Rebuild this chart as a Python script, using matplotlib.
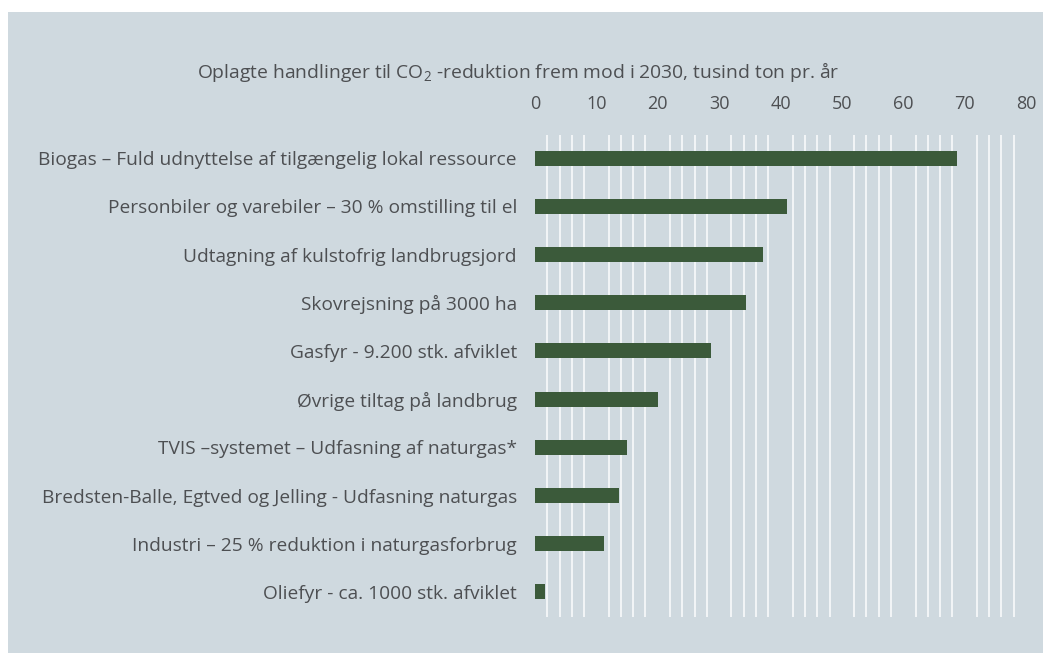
import matplotlib
matplotlib.use("Agg")
import matplotlib.pyplot as plt
import numpy as np

# ── Data ──────────────────────────────────────────────
categories = [
    "Biogas – Fuld udnyttelse af tilgængelig lokal ressource",
    "Personbiler og varebiler – 30 % omstilling til el",
    "Udtagning af kulstofrig landbrugsjord",
    "Skovrejsning på 3000 ha",
    "Gasfyr - 9.200 stk. afviklet",
    "Øvrige tiltag på landbrug",
    "TVIS –systemet – Udfasning af naturgas*",
    "Bredsten-Balle, Egtved og Jelling - Udfasning naturgas",
    "Industri – 25 % reduktion i naturgasforbrug",
    "Oliefyr - ca. 1000 stk. afviklet",
]
values = [68.7, 41.0, 37.1, 34.3, 28.6, 20.0, 15.0, 13.7, 11.2, 1.7]
xticks = [0, 10, 20, 30, 40, 50, 60, 70, 80]
title = "Oplagte handlinger til CO$_2$ -reduktion frem mod i 2030, tusind ton pr. år"

# ── Style ─────────────────────────────────────────────
BG = "#cfd9df"
BAR = "#3b5a3a"
TXT = "#4d4f52"
plt.rcParams['font.family'] = ['Open Sans', 'DejaVu Sans']
plt.rcParams['mathtext.default'] = 'regular'

fig = plt.figure(figsize=(10.43, 6.53), dpi=100)
fig.patch.set_facecolor("white")

# background panel
fig.patches.append(plt.Rectangle((8 / 1043, 0), 1, 1 - 12 / 653,
                                 transform=fig.transFigure, facecolor=BG,
                                 edgecolor="none", zorder=-5))

ax = fig.add_axes([535 / 1043, 1 - 617 / 653, 491 / 1043, 482 / 653])
ax.set_facecolor("none")

# minor white gridlines every 2, skipping the multiples of 10
for g in range(2, 80, 2):
    if g % 10:
        ax.axvline(g, color="white", lw=1.3, alpha=0.8, zorder=1)

y = np.arange(len(categories))
ax.barh(y, values, height=0.31, color=BAR, zorder=2)

ax.set_xlim(0, 80)
ax.set_ylim(len(categories) - 0.48, -0.48)
ax.xaxis.tick_top()
ax.set_xticks(xticks)
ax.set_yticks(y)
ax.set_yticklabels(categories)
ax.tick_params(axis="x", length=0, pad=16, labelsize=13, labelcolor=TXT)
ax.tick_params(axis="y", length=0, pad=13, labelsize=13.8, labelcolor=TXT)
for s in ax.spines.values():
    s.set_visible(False)

fig.text(197 / 1043, 1 - 72 / 653, title, ha="left", va="center",
         fontsize=13.9, color=TXT)

fig.savefig("out.png", dpi=100)
